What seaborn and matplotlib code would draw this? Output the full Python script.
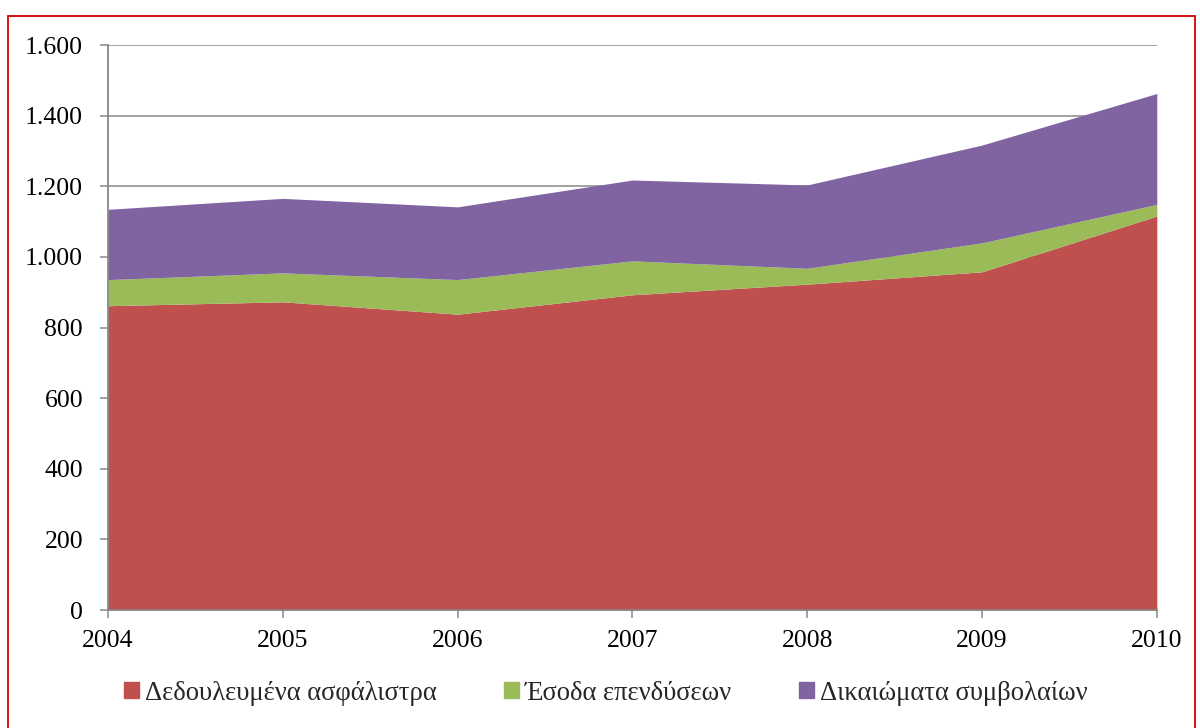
import numpy as np
import matplotlib
matplotlib.use("Agg")
import matplotlib.pyplot as plt
import matplotlib.patches as mpatches
from matplotlib.ticker import FuncFormatter
import seaborn as sns

# Δεδομένα (εκατ. ευρώ), στοιβαγμένα
years = [2004, 2005, 2006, 2007, 2008, 2009, 2010]
premiums = [862, 873, 838, 893, 923, 958, 1116]     # Δεδουλευμένα ασφάλιστρα
investments = [74, 82, 98, 96, 45, 82, 33]          # Έσοδα επενδύσεων
fees = [199, 211, 206, 229, 236, 277, 314]          # Δικαιώματα συμβολαίων
labels = ["Δεδουλευμένα ασφάλιστρα", "Έσοδα επενδύσεων", "Δικαιώματα συμβολαίων"]
colors = ["#C0504D", "#9BBB59", "#8064A2"]

sns.set_theme(style="white")
plt.rcParams["font.family"] = ["Liberation Serif", "DejaVu Serif"]

fig = plt.figure(figsize=(12, 7.28), dpi=100)
ax = fig.add_axes([0.09, 0.162, 0.874, 0.776])

palette = sns.color_palette(colors)
ax.stackplot(years, premiums, investments, fees, colors=palette, linewidth=0, zorder=2)

ax.set_xlim(years[0], years[-1])
ax.set_ylim(0, 1600)
ax.set_yticks(np.arange(0, 1601, 200))
ax.set_xticks(years)
ax.yaxis.set_major_formatter(FuncFormatter(lambda v, p: f"{int(v):,}".replace(",", ".")))

grid_col = "#878787"
ax.yaxis.grid(True, color=grid_col, linewidth=1.1, zorder=1)
ax.set_axisbelow(True)
for side in ["top", "right"]:
    ax.spines[side].set_visible(False)
for side in ["left", "bottom"]:
    ax.spines[side].set_color(grid_col)
    ax.spines[side].set_linewidth(1.3)
    ax.spines[side].set_zorder(3)

ax.tick_params(axis="both", which="major", direction="out", length=6,
               width=1.1, color=grid_col, labelsize=18.5, labelcolor="black")
ax.tick_params(axis="y", pad=12)
ax.tick_params(axis="x", pad=8)
ax.tick_params(left=True, bottom=True)

handles = [mpatches.Patch(color=c, label=l) for c, l in zip(colors, labels)]
fig.legend(handles=handles, loc="center", bbox_to_anchor=(0.505, 0.048), ncol=3,
           frameon=False, fontsize=19.2, handlelength=0.55, handleheight=0.55,
           handletextpad=0.25, columnspacing=2.5)

# κόκκινο πλαίσιο γύρω από το διάγραμμα
border = mpatches.Rectangle((8 / 1200, -0.02), 1187 / 1200, 1 - 16 / 728 + 0.02,
                            transform=fig.transFigure, fill=False,
                            edgecolor="#D00000", linewidth=1.3)
fig.patches.append(border)

fig.savefig("out.png", dpi=100)
